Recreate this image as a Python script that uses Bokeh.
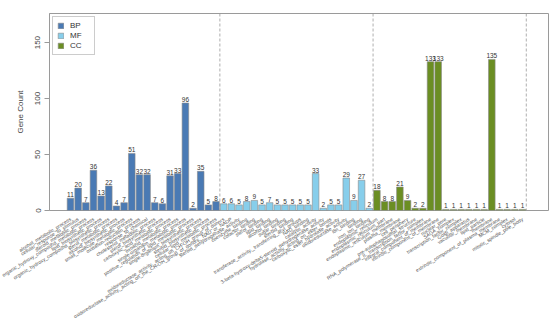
import math
from bokeh.plotting import figure
from bokeh.models import (ColumnDataSource, Range1d, FixedTicker, Span, Legend, LegendItem)
from bokeh.embed import file_html
from bokeh.resources import INLINE

# ---- data ----
bp_terms = ["alcohol_metabolic_process", "cellular_response_to_stimulus",
            "steroid_metabolic_process", "organic_hydroxy_compound_metabolic_process",
            "lipid_biosynthetic_process", "organic_hydroxy_compound_biosynthetic_process",
            "sterol_metabolic_process", "alcohol_biosynthetic_process",
            "small_molecule_metabolic_process", "oxidation-reduction_process",
            "response_to_chemical", "cholesterol_metabolic_process",
            "sterol_biosynthetic_process", "carboxylic_acid_metabolic_process",
            "oxoacid_metabolic_process", "single-organism_metabolic_process",
            "positive_regulation_of_lipid_metabolic_process", "single-organism_biosynthetic_process",
            "steroid_biosynthetic_process", "cellular_lipid_metabolic_process"]
bp_counts = [11, 20, 7, 36, 13, 22, 4, 7, 51, 32, 32, 7, 6, 31, 33, 96, 2, 35, 5, 8]

mf_terms = ["oxidoreductase_activity,_acting_on_CH-OH_group_of_donors",
            "oxidoreductase_activity,_acting_on_the_CH-OH_group_of_donors,_NAD_or_NADP",
            "steroid_dehydrogenase_activity", "coenzyme_binding", "cofactor_binding",
            "sterol_binding", "lipid_binding", "alcohol_binding", "sugar_binding",
            "steroid_binding", "transferase_activity,_transferring_acyl_groups",
            "NAD_binding", "catalytic_activity",
            "3-beta-hydroxy-delta5-steroid_dehydrogenase_activity",
            "hydrolase_activity,_acting_on_ester_bonds", "carboxylic_ester_hydrolase_activity",
            "oxidoreductase_activity", "ion_binding", "binding", "iron_ion_binding"]
mf_counts = [6, 6, 5, 8, 9, 5, 7, 5, 5, 5, 5, 5, 33, 2, 5, 5, 29, 9, 27, 2]

cc_terms = ["endoplasmic_reticulum", "endoplasmic_reticulum_part",
            "endoplasmic_reticulum_membrane", "plasma_membrane", "cell_periphery",
            "pre-autophagosomal_structure", "RNA_polymerase_II,_transcription_factor_complex",
            "integral_component_of_membrane", "intrinsic_component_of_membrane",
            "nuclear_pore", "SAGA_complex", "transcription_factor_complex",
            "Golgi_apparatus", "vacuolar_membrane", "lipid_particle", "membrane",
            "extrinsic_component_of_plasma_membrane", "MCM_complex", "cytosol",
            "mitotic_spindle_pole_body"]
cc_counts = [18, 8, 8, 21, 9, 2, 2, 133, 133, 1, 1, 1, 1, 1, 1, 135, 1, 1, 1, 1]

groups = ["BP", "MF", "CC"]
group_colors = ["#4a7ab4", "#87ceeb", "#6b8e23"]

all_terms = bp_terms + mf_terms + cc_terms
all_counts = bp_counts + mf_counts + cc_counts

FONT = "Liberation Sans"

p = figure(width=550, height=330, output_backend="svg", toolbar_location=None,
           x_range=Range1d(-2.74, 62.4), y_range=Range1d(0, 176),
           min_border_left=49, min_border_right=2, min_border_top=13, min_border_bottom=120)

p.xgrid.visible = False
p.ygrid.visible = False
p.outline_line_color = "#9a9a9a"
p.outline_line_width = 1

renderers = []
start = 0
for g, terms, counts, col in zip(groups, [bp_terms, mf_terms, cc_terms],
                                 [bp_counts, mf_counts, cc_counts], group_colors):
    xs = list(range(start, start + len(terms)))
    src = ColumnDataSource(dict(x=xs, top=counts, lab=[str(c) for c in counts]))
    r = p.vbar(x="x", top="top", width=0.86, bottom=0, source=src,
               fill_color=col, line_color="#8a8a8a", line_width=0.6)
    p.text(x="x", y="top", text="lab", source=src, text_align="center",
           text_baseline="bottom", y_offset=-1, text_font_size="6.5px",
           text_color="#333333", text_font={"value": FONT})
    renderers.append(r)
    start += len(terms)

# group separators
n = 0
for terms in [bp_terms, mf_terms, cc_terms]:
    n += len(terms)
    p.add_layout(Span(location=n - 0.5, dimension="height", line_color="#9a9a9a",
                      line_dash="3 2", line_width=0.8))

# x axis labels
xa = p.xaxis[0]
xa.ticker = FixedTicker(ticks=list(range(len(all_terms))))
xa.major_label_overrides = {i: t for i, t in enumerate(all_terms)}
xa.major_label_orientation = math.radians(32)
xa.major_label_text_font_size = "5px"
xa.major_label_text_color = "#555555"
xa.major_label_text_font = FONT
xa.axis_line_color = None
xa.major_tick_line_color = None
xa.minor_tick_line_color = None
xa.major_label_standoff = 2

# y axis
ya = p.yaxis[0]
ya.ticker = FixedTicker(ticks=[0, 50, 100, 150])
ya.axis_label = "Gene Count"
ya.axis_label_text_font = FONT
ya.axis_label_text_font_style = "normal"
ya.axis_label_text_font_size = "8px"
ya.axis_label_text_color = "#444444"
ya.axis_label_standoff = 8
ya.major_label_orientation = "vertical"
ya.major_label_text_font = FONT
ya.major_label_text_font_size = "8px"
ya.major_label_text_color = "#444444"
ya.axis_line_color = "#9a9a9a"
ya.major_tick_line_color = "#9a9a9a"
ya.major_tick_out = 5
ya.major_tick_in = 0
ya.minor_tick_line_color = None
ya.major_label_standoff = 4

legend = Legend(items=[LegendItem(label=g, renderers=[r]) for g, r in zip(groups, renderers)],
                location="top_left")
legend.label_text_font = FONT
legend.label_text_font_size = "8px"
legend.label_text_color = "#333333"
legend.glyph_width = 7
legend.glyph_height = 7
legend.label_height = 8
legend.spacing = 1
legend.padding = 4
legend.margin = 3
legend.border_line_color = "#9a9a9a"
legend.label_standoff = 6
p.add_layout(legend)

open("out.html", "w").write(file_html(p, INLINE))
